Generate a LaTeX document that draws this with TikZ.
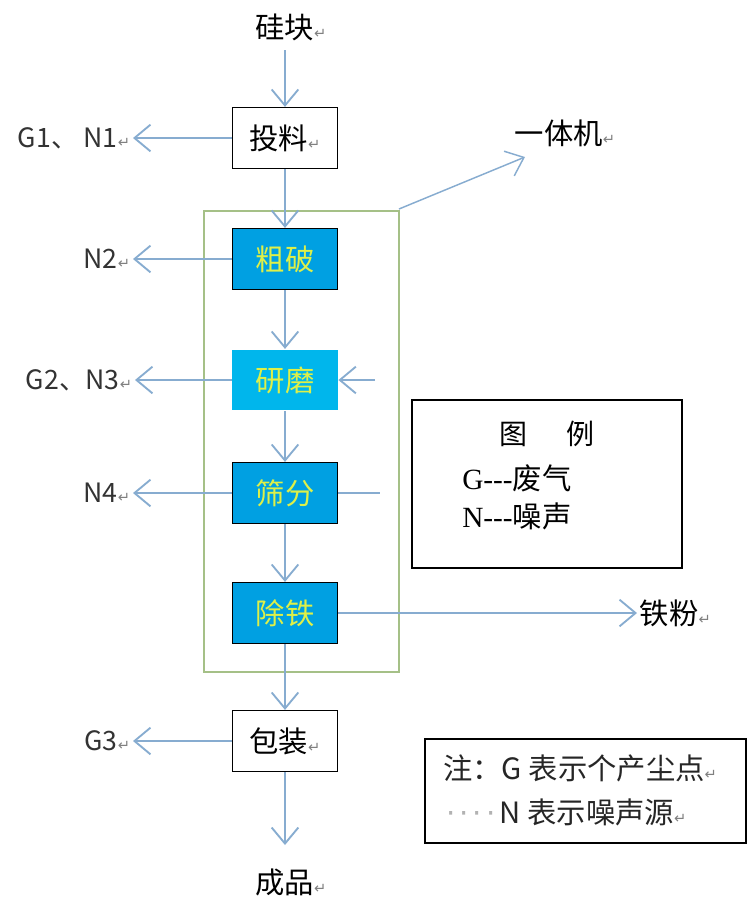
\documentclass[tikz,border=0pt]{standalone}
\usepackage{fontspec}
\setmainfont{Noto Sans CJK SC}
\newfontfamily\legfont{Liberation Serif}
\newfontfamily\symfont{DejaVu Sans}
\usetikzlibrary{arrows.meta}
\definecolor{flow}{RGB}{135,172,208}
\definecolor{procfill}{RGB}{0,160,226}
\definecolor{grindfill}{RGB}{0,182,236}
\definecolor{proctext}{RGB}{222,240,72}
\definecolor{framecol}{RGB}{165,192,135}
\newcommand{\retmark}{{\symfont\color{gray}\fontsize{11}{11}\selectfont ↵}}
\newcommand{\spcdot}{{\symfont\color{gray!60}·}\kern3pt}
\tikzset{
  flowarrow/.style={draw=flow, line width=1.4pt, -{Straight Barb[length=12pt,width=20pt]}},
  flowline/.style={draw=flow, line width=1.4pt},
  plainbox/.style={draw=black, line width=1.1pt, minimum width=79pt, minimum height=45.5pt,
    inner sep=0pt, font=\fontsize{22}{22}\selectfont},
  procbox/.style={plainbox, fill=procfill, text=proctext},
  grindbox/.style={plainbox, draw=none, fill=grindfill, text=proctext},
  sidetext/.style={anchor=east, inner sep=2pt, font=\fontsize{20}{20}\selectfont, text=black!80},
  flowtext/.style={inner sep=2pt, font=\fontsize{22}{22}\selectfont},
  notetext/.style={anchor=west, inner sep=0pt, font=\fontsize{22}{22}\selectfont},
}

\begin{document}
\begin{tikzpicture}[x=0.75pt, y=-0.75pt]
    \useasboundingbox (0,0) rectangle (748,901);
    % equipment frame
    \draw [framecol, line width=1pt] (204,211) coordinate (fnw) rectangle (399,672) coordinate (fse);
    \coordinate (fne) at (399,209);

    % main line
    \node [flowtext] (src) at (291,27) {硅块\retmark};
    \node [plainbox] (tl) at (285,138) {投料\retmark};
    \node [procbox] (cp) at (285,259) {粗破};
    \node [grindbox] (ym) at (285,380) {研磨};
    \node [procbox] (sf) at (285,493) {筛分};
    \node [procbox] (ct) at (285,613) {除铁};
    \node [plainbox] (bz) at (285,741) {包装\retmark};
    \node [flowtext] (prod) at (291,882) {成品\retmark};

    \draw [flowarrow] (285,50) -- (tl.north);
    \draw [flowarrow] (tl.south) -- (cp.north);
    \draw [flowarrow] (cp.south) -- (ym.north);
    \draw [flowarrow] (ym.south) -- (sf.north);
    \draw [flowarrow] (sf.south) -- (ct.north);
    \draw [flowarrow] (ct.south) -- (bz.north);
    \draw [flowarrow] (bz.south) -- (285,845);

    % emissions
    \node [sidetext] (e1) at (133,138) {G1、 N1\retmark};
    \node [sidetext] (e2) at (133,259) {N2\retmark};
    \node [sidetext] (e3) at (135,380) {G2、N3\retmark};
    \node [sidetext] (e4) at (133,493) {N4\retmark};
    \node [sidetext] (e5) at (133,741) {G3\retmark};
    \draw [flowarrow] (tl.west) -- (e1.east);
    \draw [flowarrow] (cp.west) -- (e2.east);
    \draw [flowarrow] (ym.west) -- (e3.east);
    \draw [flowarrow] (sf.west) -- (e4.east);
    \draw [flowarrow] (bz.west) -- (e5.east);

    % return from sieving
    \coordinate (rout) at (380,493);
    \coordinate (rin) at (375,380);
    \draw [flowline] (sf.east) -- (rout);
    \draw [flowarrow] (rin) -- (ym.east);

    % side products
    \node [flowtext, anchor=west] (ytj) at (512,133) {一体机\retmark};
    \coordinate (ytip) at (525,157);
    \draw [flowarrow, line width=1.1pt] (fne) -- (ytip);
    \node [flowtext, anchor=west] (tf) at (637,613) {铁粉\retmark};
    \draw [flowarrow] (ct.east) -- (tf.west);

    % legend
    \node [draw=black, line width=1.1pt, minimum width=202.5pt, minimum height=126pt] (leg) at (547,484) {};
    \node [font=\fontsize{21}{21}\selectfont] (legt) at (547,434) {图\hspace{1.4em}例};
    \node [notetext] (legg) at (462,478) {{\legfont G---}废气};
    \node [notetext] (legn) at (462,516) {{\legfont N---}噪声};

    % note
    \draw [black, line width=1.1pt] (425,739) coordinate (nnw) rectangle (746,843) coordinate (nse);
    \node [notetext, text=black!85] (note1) at (443,768) {注：G 表示个产尘点\retmark};
    \node [notetext, text=black!85] (note2) at (446,812) {\spcdot\spcdot\spcdot\spcdot N 表示噪声源\retmark};
\end{tikzpicture}
\end{document}
